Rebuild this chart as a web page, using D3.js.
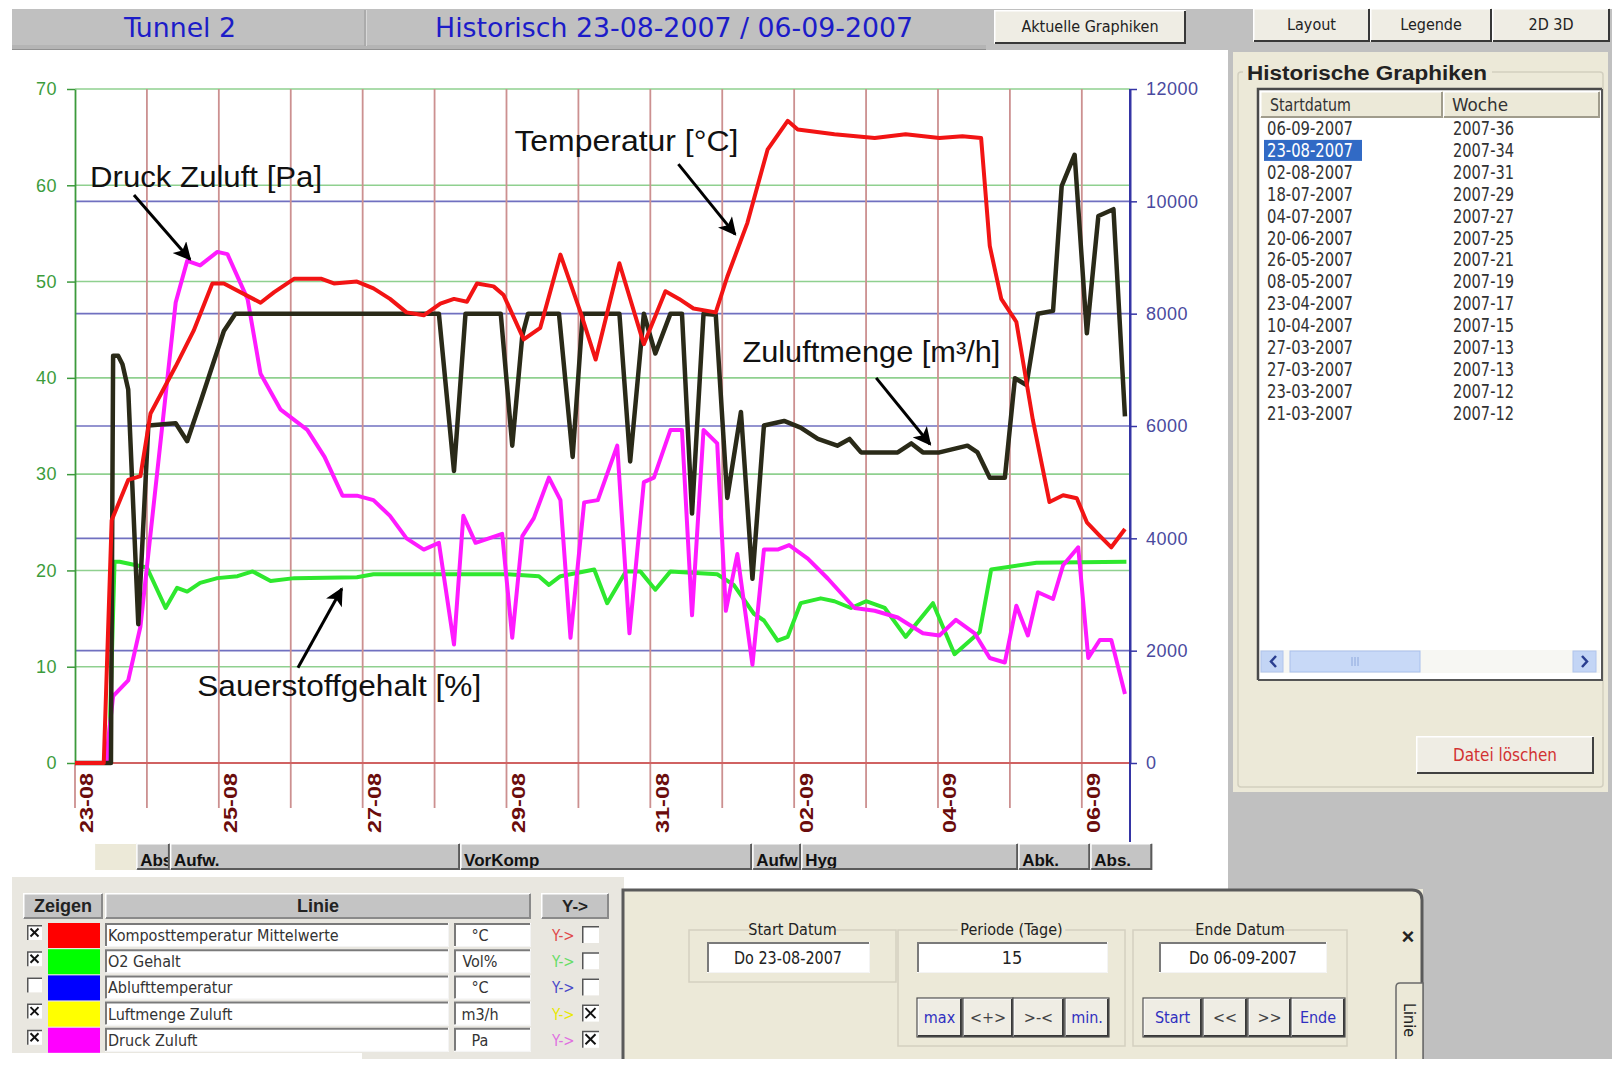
<!DOCTYPE html>
<html><head><meta charset="utf-8">
<script src="https://cdn.jsdelivr.net/npm/d3@7"></script>
<style>body{margin:0;background:#fff;overflow:hidden}svg{display:block}</style>
</head><body>
<svg id="c" width="1612" height="1069"></svg>
<script>
// ---------------- DATA ----------------
const xTickDays = [0, 2, 4, 6, 8, 10, 12, 14];
const xTickLabels = ["23-08", "25-08", "27-08", "29-08", "31-08", "02-09", "04-09", "06-09"];
const gridDays = [0,1,2,3,4,5,6,7,8,9,10,11,12,13,14];
const leftTicks = [0, 10, 20, 30, 40, 50, 60, 70];
const rightTicks = [0, 2000, 4000, 6000, 8000, 10000, 12000];

// [day offset from 23-08 00:00, value]
const tempSeries = [[0,0],[0.40,0],[0.51,25.2],[0.74,29.4],[0.91,29.8],[1.05,36.3],[1.40,41.2],[1.65,44.9],[1.91,49.8],[2.07,49.8],[2.58,47.8],[2.77,48.9],[3.05,50.3],[3.42,50.3],[3.60,49.8],[3.92,50.0],[4.15,49.3],[4.38,48.2],[4.61,46.8],[4.85,46.5],[5.08,47.7],[5.27,48.2],[5.45,47.9],[5.59,49.8],[5.82,49.5],[5.96,48.6],[6.24,44.0],[6.47,45.2],[6.75,52.8],[7.03,46.8],[7.24,41.9],[7.57,51.9],[7.91,43.5],[8.21,49.0],[8.40,48.2],[8.60,47.2],[8.91,46.8],[9.07,50.5],[9.35,56.1],[9.63,63.7],[9.91,66.7],[10.05,65.8],[10.56,65.3],[11.12,64.9],[11.55,65.3],[12.02,64.9],[12.34,65.1],[12.60,64.9],[12.72,53.7],[12.88,48.2],[13.09,45.8],[13.32,35.6],[13.55,27.1],[13.74,27.8],[13.93,27.5],[14.07,25.0],[14.25,23.6],[14.41,22.4],[14.60,24.3]];
const o2Series = [[0,0],[0.47,0],[0.55,20.9],[0.62,20.9],[1.00,20.3],[1.26,16.1],[1.42,18.2],[1.56,17.8],[1.74,18.7],[1.98,19.2],[2.26,19.4],[2.47,19.9],[2.72,18.9],[3.05,19.2],[3.92,19.3],[4.15,19.6],[5.00,19.6],[6.00,19.6],[6.45,19.4],[6.59,18.5],[6.75,19.4],[7.22,20.1],[7.40,16.6],[7.66,19.9],[7.86,19.9],[8.07,18.0],[8.28,19.9],[8.93,19.6],[9.16,18.5],[9.44,15.5],[9.58,14.8],[9.77,12.7],[9.91,13.1],[10.09,16.6],[10.37,17.1],[10.56,16.8],[10.79,16.1],[11.00,16.8],[11.26,16.1],[11.55,13.1],[11.93,16.6],[12.23,11.3],[12.58,13.6],[12.74,20.1],[13.37,20.8],[14.62,20.9]];
const airflowSeries = [[0,0],[0.50,0],[0.53,7250],[0.60,7250],[0.66,7100],[0.74,6650],[0.88,2470],[1.02,6010],[1.40,6050],[1.56,5730],[1.74,6410],[2.07,7690],[2.23,8000],[3.50,8000],[5.06,8000],[5.27,5200],[5.43,8000],[5.92,8000],[6.08,5650],[6.22,7610],[6.30,8000],[6.73,8000],[6.92,5450],[7.06,8000],[7.57,8000],[7.72,5370],[7.91,8000],[8.07,7290],[8.28,8000],[8.44,8000],[8.58,4440],[8.74,8000],[8.91,7980],[9.07,4720],[9.26,6250],[9.42,3280],[9.58,6010],[9.86,6090],[10.09,5970],[10.33,5770],[10.60,5650],[10.77,5770],[10.93,5530],[11.44,5530],[11.63,5690],[11.79,5530],[12.02,5530],[12.41,5650],[12.55,5530],[12.72,5080],[12.93,5080],[13.07,6850],[13.23,6730],[13.39,8000],[13.60,8050],[13.72,10270],[13.90,10830],[14.07,7650],[14.23,9740],[14.44,9860],[14.60,6170]];
const pressureSeries = [[0,0],[0.44,0],[0.46,385],[0.53,1190],[0.74,1470],[0.91,2430],[1.40,8200],[1.56,8940],[1.74,8860],[1.98,9100],[2.12,9060],[2.40,8260],[2.58,6930],[2.86,6290],[3.23,5930],[3.47,5450],[3.72,4760],[3.92,4760],[4.15,4680],[4.38,4400],[4.61,4000],[4.85,3800],[5.06,3920],[5.27,2110],[5.40,4400],[5.57,3920],[5.94,4080],[6.08,2230],[6.22,4040],[6.38,4360],[6.59,5080],[6.75,4680],[6.89,2230],[7.08,4640],[7.27,4680],[7.54,5650],[7.71,2310],[7.91,5000],[8.05,5080],[8.28,5930],[8.44,5930],[8.58,2630],[8.74,5930],[8.93,5690],[9.05,2710],[9.21,3720],[9.42,1750],[9.58,3800],[9.77,3800],[9.93,3880],[10.19,3640],[10.47,3280],[10.84,2760],[11.12,2710],[11.44,2590],[11.79,2310],[12.02,2270],[12.25,2550],[12.51,2310],[12.72,1870],[12.93,1790],[13.09,2800],[13.25,2270],[13.39,3040],[13.60,2920],[13.74,3520],[13.95,3840],[14.09,1870],[14.25,2190],[14.41,2190],[14.60,1230]];

const phaseStarts = [0.28, 0.85, 1.32, 5.355, 9.416, 10.097, 13.115, 14.117];
const phaseEnd = 14.98;
const phaseLabels = ["", "Abs", "Aufw.", "VorKomp", "Aufw", "Hyg", "Abk.", "Abs."];

const historyDates = ["06-09-2007","23-08-2007","02-08-2007","18-07-2007","04-07-2007","20-06-2007","26-05-2007","08-05-2007","23-04-2007","10-04-2007","27-03-2007","27-03-2007","23-03-2007","21-03-2007"];
const historyWeeks = ["2007-36","2007-34","2007-31","2007-29","2007-27","2007-25","2007-21","2007-19","2007-17","2007-15","2007-13","2007-13","2007-12","2007-12"];

const legendNames = ["Komposttemperatur  Mittelwerte", "O2 Gehalt", "Ablufttemperatur", "Luftmenge Zuluft", "Druck Zuluft"];
const legendUnits = ["°C", "Vol%", "°C", "m3/h", "Pa"];
const legendColors = ["#ff0000", "#00ff00", "#0000ff", "#ffff00", "#ff00ff"];
const legendYColors = ["#e04848", "#66dd66", "#4848c8", "#e8e800", "#e070e0"];
const legendShown = [true, true, false, true, true];
const legendRight = [false, false, false, true, true];

// ---------------- HELPERS ----------------
const UI = "'Liberation Sans Narrow','Arial Narrow','DejaVu Sans Condensed',sans-serif";
const SANS = "'Liberation Sans',Arial,sans-serif";
const svg = d3.select('#c');

function R(g, x, y, w, h, fill, stroke, sw) {
  return g.append('rect').attr('x', x).attr('y', y).attr('width', w).attr('height', h)
    .attr('fill', fill || 'none').attr('stroke', stroke || 'none').attr('stroke-width', sw || 1);
}
function T(g, x, y, s, o) {
  o = o || {};
  const t = g.append('text').attr('x', x).attr('y', y).text(s)
    .attr('font-family', o.family || UI).attr('font-size', o.size || 15)
    .attr('fill', o.fill || '#222').attr('text-anchor', o.anchor || 'start');
  if (o.weight) t.attr('font-weight', o.weight);
  if (o.len) t.attr('textLength', o.len).attr('lengthAdjust', 'spacingAndGlyphs');
  return t;
}
function L(g, x1, y1, x2, y2, c, w) {
  return g.append('line').attr('x1', x1).attr('y1', y1).attr('x2', x2).attr('y2', y2)
    .attr('stroke', c).attr('stroke-width', w || 1);
}
function raised(g, x, y, w, h, fill, dark) {
  R(g, x, y, w, h, fill || '#ece9d8');
  g.append('path').attr('d', `M${x + 0.75},${y + h - 1}V${y + 0.75}H${x + w - 1}`).attr('stroke', '#fff').attr('stroke-width', 1.5).attr('fill', 'none');
  g.append('path').attr('d', `M${x + w - 1},${y + 1}V${y + h - 1}H${x + 1}`).attr('stroke', dark || '#404040').attr('stroke-width', 2).attr('fill', 'none');
}
function sunken(g, x, y, w, h, fill) {
  R(g, x, y, w, h, fill || '#fff');
  g.append('path').attr('d', `M${x + 1},${y + h - 1}V${y + 1}H${x + w - 1}`).attr('stroke', '#7a7a7a').attr('stroke-width', 2).attr('fill', 'none');
  g.append('path').attr('d', `M${x + w - 0.5},${y + 1}V${y + h - 0.5}H${x + 1}`).attr('stroke', '#f4f4f4').attr('stroke-width', 1).attr('fill', 'none');
}
function checkbox(g, x, y, s, checked) {
  R(g, x, y, s, s, '#fff');
  g.append('path').attr('d', `M${x + 0.75},${y + s}V${y + 0.75}H${x + s}`).attr('stroke', '#555').attr('stroke-width', 1.5).attr('fill', 'none');
  if (checked) {
    L(g, x + 3.5, y + 3.5, x + s - 3.5, y + s - 3.5, '#111', 2);
    L(g, x + s - 3.5, y + 3.5, x + 3.5, y + s - 3.5, '#111', 2);
  }
}

// ---------------- BACKGROUND ----------------
R(svg, 0, 0, 1612, 1069, '#ffffff');
R(svg, 1228, 48, 384, 1012, '#c0c0c0');
R(svg, 12, 877, 612, 182, '#e9e7e0');

// ---------------- TITLE BAR ----------------
const tb = svg.append('g');
R(tb, 12, 9, 1600, 41, '#c0c0c0');
R(tb, 12, 45, 974, 5, '#b4b4b4');
L(tb, 12, 49.5, 986, 49.5, '#909090', 1);
L(tb, 365, 10, 365, 46, '#a4a4a4', 1.5);
L(tb, 366.5, 10, 366.5, 46, '#d8d8d8', 1);
T(tb, 180, 37, 'Tunnel 2', {size: 27, fill: '#1c1cc8', anchor: 'middle', len: 112});
T(tb, 674, 37, 'Historisch 23-08-2007 / 06-09-2007', {size: 27, fill: '#1c1cc8', anchor: 'middle', len: 478});
const btns = [['Aktuelle Graphiken', 994, 10, 192, 34], ['Layout', 1253, 8, 117, 34], ['Legende', 1370, 8, 122, 34], ['2D 3D', 1492, 8, 118, 34]];
btns.forEach(b => {
  raised(tb, b[1], b[2], b[3], b[4], '#efede4', '#383838');
  T(tb, b[1] + b[3] / 2, b[2] + 22, b[0], {size: 16, anchor: 'middle', fill: '#222'});
});

// ---------------- CHART ----------------
const x = d3.scaleLinear().domain([0, 14.67]).range([75, 1130]);
const yL = d3.scaleLinear().domain([0, 70]).range([763, 89]);
const yR = d3.scaleLinear().domain([0, 12000]).range([763, 89]);
const chart = svg.append('g');

rightTicks.filter(v => v > 0 && v < 12000).forEach(v => L(chart, x(0), yR(v), x(14.67), yR(v), '#7070c0', 1.6));
leftTicks.filter(v => v > 0).forEach(v => L(chart, x(0), yL(v), x(14.67), yL(v), '#8fd08f', 1.6));
gridDays.forEach(d => L(chart, x(d), d === 0 ? yL(0) : yL(70), x(d), 808, '#cc9090', 1.8));
L(chart, x(0), yL(0), x(14.67), yL(0), '#d06262', 2);

const axL = chart.append('g').attr('transform', `translate(${x(0)},0)`)
  .call(d3.axisLeft(yL).tickValues(leftTicks).tickFormat(d3.format('d')).tickSize(8).tickSizeOuter(0).tickPadding(10));
axL.select('.domain').attr('stroke', '#3c9a3c').attr('stroke-width', 1.8);
axL.selectAll('.tick line').attr('stroke', '#3c9a3c').attr('stroke-width', 1.5);
axL.selectAll('.tick text').attr('fill', '#3c9c3c').attr('font-family', SANS).attr('font-size', 18).attr('letter-spacing', 0.5);

L(chart, x(14.67), yR(12000), x(14.67), 842, '#3535a5', 2);
const axR = chart.append('g').attr('transform', `translate(${x(14.67)},0)`)
  .call(d3.axisRight(yR).tickValues(rightTicks).tickFormat(d3.format('d')).tickSize(7).tickSizeOuter(0).tickPadding(9));
axR.select('.domain').attr('stroke', '#3535a5').attr('stroke-width', 2);
axR.selectAll('.tick line').attr('stroke', '#3535a5').attr('stroke-width', 1.5);
axR.selectAll('.tick text').attr('fill', '#4a4a9e').attr('font-family', SANS).attr('font-size', 18).attr('letter-spacing', 0.5);

xTickDays.forEach((d, i) => {
  chart.append('text').attr('transform', `translate(${x(d) + 12},773) rotate(-90)`)
    .attr('text-anchor', 'end').attr('dy', '0.36em')
    .attr('font-family', SANS).attr('font-weight', 'bold').attr('font-size', 18)
    .attr('fill', '#6a0c0c').attr('textLength', 60).attr('lengthAdjust', 'spacingAndGlyphs')
    .text(xTickLabels[i]);
});

const lineL = d3.line().x(d => x(d[0])).y(d => yL(d[1]));
const lineR = d3.line().x(d => x(d[0])).y(d => yR(d[1]));
const series = [
  {data: o2Series, gen: lineL, color: '#2ee82e', w: 4},
  {data: pressureSeries, gen: lineR, color: '#ff1aff', w: 4},
  {data: airflowSeries, gen: lineR, color: '#2a2a18', w: 4.5},
  {data: tempSeries, gen: lineL, color: '#f21414', w: 4}
];
series.forEach(s => chart.append('path').attr('d', s.gen(s.data)).attr('fill', 'none')
  .attr('stroke', s.color).attr('stroke-width', s.w).attr('stroke-linejoin', 'round'));

const defs = svg.append('defs');
defs.append('marker').attr('id', 'ah').attr('viewBox', '0 0 10 10').attr('refX', 9).attr('refY', 5)
  .attr('markerWidth', 6.5).attr('markerHeight', 6).attr('orient', 'auto').attr('markerUnits', 'strokeWidth')
  .append('path').attr('d', 'M0,0 L10,5 L0,10 L2.5,5 Z').attr('fill', '#000');
const annotations = [
  {text: 'Druck Zuluft [Pa]', at: [0.21, 59.8], len: 232, from: [0.82, 59.0], to: [1.60, 52.3]},
  {text: 'Temperatur [°C]', at: [6.11, 63.6], len: 224, from: [8.39, 62.2], to: [9.18, 54.9]},
  {text: 'Zuluftmenge [m³/h]', at: [9.28, 41.6], len: 258, from: [11.14, 40.0], to: [11.89, 33.1]},
  {text: 'Sauerstoffgehalt [%]', at: [1.70, 7.0], len: 284, from: [3.10, 9.9], to: [3.71, 18.1]}
];
annotations.forEach(a => {
  T(chart, x(a.at[0]), yL(a.at[1]), a.text, {family: SANS, size: 29, fill: '#111', len: a.len});
  chart.append('line').attr('x1', x(a.from[0])).attr('y1', yL(a.from[1]))
    .attr('x2', x(a.to[0])).attr('y2', yL(a.to[1])).attr('stroke', '#000').attr('stroke-width', 3)
    .attr('marker-end', 'url(#ah)');
});

const phase = svg.append('g');
phaseStarts.forEach((d, i) => {
  const x0 = x(d), x1 = i < phaseStarts.length - 1 ? x(phaseStarts[i + 1]) : x(phaseEnd);
  if (i === 0) { R(phase, x0, 843, x1 - x0, 27, '#ece9d8'); L(phase, x0, 843.5, x1, 843.5, '#fff', 1); }
  else raised(phase, x0, 843, x1 - x0, 27, '#c4c4c4', '#5a5a5a');
  const cid = 'pc' + i;
  defs.append('clipPath').attr('id', cid).append('rect').attr('x', x0 + 2).attr('y', 843).attr('width', x1 - x0 - 4).attr('height', 25);
  T(phase, x0 + 4, 866, phaseLabels[i], {family: SANS, size: 17, weight: 'bold', fill: '#111'}).attr('clip-path', `url(#${cid})`);
});

// ---------------- RIGHT PANEL ----------------
const rp = svg.append('g');
R(rp, 1233, 52, 375, 740, '#ece9d8');
rp.append('path').attr('d', 'M1243,72 H1241 Q1238,72 1238,75 V784 Q1238,787 1241,787 H1600 Q1603,787 1603,784 V75 Q1603,72 1600,72 H1492')
  .attr('fill', 'none').attr('stroke', '#d2cfbf').attr('stroke-width', 1.5);
T(rp, 1247, 80, 'Historische Graphiken', {family: SANS, size: 20, weight: 'bold', fill: '#222', len: 240});
R(rp, 1257, 88, 345, 592, '#fff');
rp.append('path').attr('d', 'M1258,680 V89 H1602').attr('stroke', '#4a4a4a').attr('stroke-width', 2.5).attr('fill', 'none');
rp.append('path').attr('d', 'M1602,89 V680 H1258').attr('stroke', '#555').attr('stroke-width', 2).attr('fill', 'none');
raised(rp, 1260, 91, 183, 27, '#ece9d8', '#a09c8c');
raised(rp, 1443, 91, 157, 27, '#ece9d8', '#a09c8c');
T(rp, 1270, 111, 'Startdatum', {size: 18, fill: '#333', len: 81});
T(rp, 1452, 111, 'Woche', {size: 18, fill: '#333', len: 56});
historyDates.forEach((s, i) => {
  const cy = 128.5 + i * 21.9;
  if (i === 1) R(rp, 1264, cy - 10.5, 98, 21, '#316ac5');
  T(rp, 1267, cy + 6.5, s, {size: 19, fill: i === 1 ? '#fff' : '#333', len: 86});
  T(rp, 1453, cy + 6.5, historyWeeks[i], {size: 19, fill: '#333', len: 61});
});
R(rp, 1260, 650, 340, 23, '#f7f7f3');
R(rp, 1261, 651, 22, 21, '#c3d5f5', '#b0c4ec', 1);
R(rp, 1573, 651, 23, 21, '#c3d5f5', '#b0c4ec', 1);
R(rp, 1290, 651, 130, 21, '#c8d9f7', '#a9c0ec', 1);
[-3, 0, 3].forEach(o => L(rp, 1355 + o, 657, 1355 + o, 666, '#8ea8dc', 1));
rp.append('path').attr('d', 'M1276,656 l-5,5.5 l5,5.5').attr('stroke', '#2a3e90').attr('stroke-width', 2.5).attr('fill', 'none');
rp.append('path').attr('d', 'M1582,656 l5,5.5 l-5,5.5').attr('stroke', '#2a3e90').attr('stroke-width', 2.5).attr('fill', 'none');
raised(rp, 1416, 736, 178, 38, '#efede4', '#404040');
T(rp, 1505, 761, 'Datei löschen', {size: 17, fill: '#d23232', anchor: 'middle', len: 104});

// ---------------- LEGEND TABLE ----------------
const lg = svg.append('g');
raised(lg, 23, 893, 80, 26, '#c4c4c4', '#8a8a8a');
raised(lg, 105, 893, 426, 26, '#c4c4c4', '#8a8a8a');
raised(lg, 541, 893, 68, 26, '#c4c4c4', '#8a8a8a');
T(lg, 63, 912, 'Zeigen', {family: SANS, size: 18, weight: 'bold', anchor: 'middle', fill: '#222'});
T(lg, 318, 912, 'Linie', {family: SANS, size: 18, weight: 'bold', anchor: 'middle', fill: '#222'});
T(lg, 575, 912, 'Y->', {family: SANS, size: 17, weight: 'bold', anchor: 'middle', fill: '#222'});
legendNames.forEach((n, i) => {
  const y = 923 + i * 26.2;
  checkbox(lg, 27, y + 2, 15, legendShown[i]);
  R(lg, 48, y, 52, 25, legendColors[i]);
  sunken(lg, 105, y, 344, 24, '#fff');
  T(lg, 108, y + 18, n, {size: 16, fill: '#333'});
  sunken(lg, 454, y, 77, 24, '#fff');
  T(lg, 480, y + 18, legendUnits[i], {size: 16, fill: '#333', anchor: 'middle'});
  T(lg, 552, y + 18, 'Y->', {size: 15, fill: legendYColors[i]});
  checkbox(lg, 582, y + 3, 17, legendRight[i]);
});
R(svg, 0, 1053, 362, 16, '#fff');

// ---------------- CONTROL PANEL ----------------
const cp = svg.append('g');
R(cp, 622, 889, 801, 170, '#ece9d8');
cp.append('path').attr('d', 'M623,1059 V890 H1412 Q1422,890 1422,900 V1059').attr('fill', 'none').attr('stroke', '#5a5a5a').attr('stroke-width', 3);
function group(x0, y0, w, h, title) {
  R(cp, x0, y0, w, h, 'none', '#d4d0c0', 1.5);
  const tw = title.length * 7.4;
  R(cp, x0 + w / 2 - tw / 2 - 2, y0 - 8, tw + 4, 14, '#ece9d8');
  T(cp, x0 + w / 2, y0 + 5, title, {size: 16, anchor: 'middle', fill: '#222'});
}
group(689, 930, 207, 52, 'Start Datum');
group(898, 930, 227, 116, 'Periode (Tage)');
group(1133, 930, 214, 116, 'Ende Datum');
sunken(cp, 707, 942, 163, 31, '#fff');
sunken(cp, 917, 942, 191, 31, '#fff');
sunken(cp, 1159, 942, 168, 31, '#fff');
T(cp, 788, 964, 'Do 23-08-2007', {size: 18, anchor: 'middle', fill: '#222', len: 108});
T(cp, 1012, 964, '15', {size: 18, anchor: 'middle', fill: '#222'});
T(cp, 1243, 964, 'Do 06-09-2007', {size: 18, anchor: 'middle', fill: '#222', len: 108});
const cbtns = [['max', 917, 45, '#3030c0'], ['<+>', 963, 50, '#444'], ['>-<', 1013, 51, '#444'], ['min.', 1065, 44, '#3030c0'],
               ['Start', 1143, 59, '#3030c0'], ['<<', 1203, 44, '#444'], ['>>', 1248, 43, '#444'], ['Ende', 1291, 54, '#3030c0']];
cbtns.forEach(b => {
  raised(cp, b[1], 998, b[2], 39, '#efede4', '#383838');
  cp.append('rect').attr('x', b[1]).attr('y', 998).attr('width', b[2]).attr('height', 39).attr('fill', 'none').attr('stroke', '#505050').attr('stroke-width', 1.2);
  T(cp, b[1] + b[2] / 2, 1023, b[0], {size: 16, anchor: 'middle', fill: b[3]});
});
T(cp, 1408, 944, '×', {family: SANS, size: 22, weight: 'bold', anchor: 'middle', fill: '#222'});
cp.append('path').attr('d', 'M1396,1059 V987 Q1396,983 1400,983 H1423 V1059').attr('fill', '#ece9d8').attr('stroke', '#6a6a6a').attr('stroke-width', 1.5);
cp.append('text').attr('transform', 'translate(1404,1020) rotate(90)').attr('text-anchor', 'middle')
  .attr('font-family', UI).attr('font-size', 16).attr('fill', '#222').text('Linie');
R(svg, 0, 1059, 1612, 10, '#fff');
</script>
</body></html>
